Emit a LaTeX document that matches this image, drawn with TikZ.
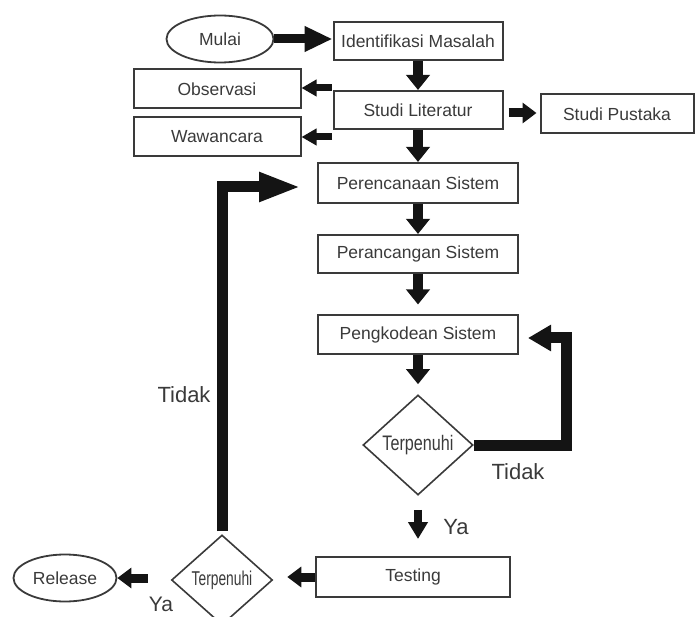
\documentclass[tikz,border=0pt]{standalone}
\usepackage{fontspec}
\setmainfont{Liberation Sans}
\usetikzlibrary{shapes.geometric,arrows.meta}
\definecolor{txt}{HTML}{3A3A3A}
\definecolor{edgec}{HTML}{3A3A3A}
\definecolor{arr}{HTML}{141414}
\begin{document}
\begin{tikzpicture}[x=1pt,y=-1pt,
  box/.style={draw=edgec,line width=2pt,rectangle,inner sep=0pt,text=txt,
    font=\fontsize{17.5}{20}\selectfont},
  oval/.style={draw=edgec,line width=1.8pt,ellipse,inner sep=0pt,text=txt,
    minimum height=47pt,font=\fontsize{17.5}{20}\selectfont},
  dec/.style={draw=edgec,line width=1.6pt,diamond,inner sep=0pt,text=txt},
  lbl/.style={text=txt,inner sep=0pt,font=\fontsize{22}{24}\selectfont},
  bigarr/.style={draw=arr,line width=9pt,-{Triangle[length=28pt,width=24pt]}},
  varr/.style={draw=arr,line width=10pt,-{Triangle[length=15pt,width=23pt]}},
  sarr/.style={draw=arr,line width=7pt,-{Triangle[length=15pt,width=16pt]}},
  harr/.style={draw=arr,line width=9pt,-{Triangle[length=14pt,width=20pt]}},
  yarr/.style={draw=arr,line width=8pt,-{Triangle[length=17pt,width=19pt]}},
  loopr/.style={draw=arr,line width=11pt,miter limit=10,-{Triangle[length=23pt,width=25pt]}},
  loopl/.style={draw=arr,line width=11pt,miter limit=10,-{Triangle[length=42pt,width=27pt]}}
]
\useasboundingbox (0,0) rectangle (696,617);

% nodes
\node[oval,minimum width=107pt] (mulai) at (220,39) {Mulai};
\node[box,minimum width=169pt,minimum height=38pt] (ident) at (418,41) {Identifikasi Masalah};
\node[box,minimum width=167pt,minimum height=39pt] (obs) at (217,89) {Observasi};
\node[box,minimum width=167pt,minimum height=39pt] (waw) at (217,137) {Wawancara};
\node[box,minimum width=169pt,minimum height=38pt] (studi) at (418,110) {Studi Literatur};
\node[box,minimum width=153pt,minimum height=39pt] (pust) at (617,114) {Studi Pustaka};
\node[box,minimum width=200pt,minimum height=40pt] (pren) at (418,183) {Perencanaan Sistem};
\node[box,minimum width=200pt,minimum height=38pt] (pran) at (418,254) {Perancangan Sistem};
\node[box,minimum width=200pt,minimum height=39pt] (peng) at (418,335) {Pengkodean Sistem};
\node[dec,minimum width=110pt,minimum height=100pt] (d1) at (418,445)
  {\scalebox{0.77}[1]{\fontsize{21}{23}\selectfont Terpenuhi}};
\node[box,minimum width=194pt,minimum height=40pt] (test) at (413,577) {Testing};
\node[dec,minimum width=101pt,minimum height=90pt] (d2) at (222,580)
  {\scalebox{0.69}[1]{\fontsize{20}{22}\selectfont Terpenuhi}};
\node[oval,minimum width=103pt] (rel) at (65,578) {Release};

% labels
\node[lbl] (tidakr) at (518,472) {Tidak};
\node[lbl] (tidakl) at (184,395) {Tidak};
\node[lbl] (yar) at (456,527) {Ya};
\node[lbl,font=\fontsize{21}{23}\selectfont] (yal) at (161,604) {Ya};

% free start points
\coordinate (o1) at (332,88);
\coordinate (o2) at (332,137);
\coordinate (r1) at (566,445);
\coordinate (r2) at (566,338);
\coordinate (l1) at (222,187);

% connectors
\draw[bigarr] (mulai.east) -- (mulai.east -| ident.west);
\draw[varr] (ident.south) -- (studi.north);
\draw[sarr] (o1) -- (o1 -| obs.east);
\draw[sarr] (o2) -- (o2 -| waw.east);
\draw[harr,shorten <=5pt,shorten >=3pt] (studi.east |- 0,113) -- (pust.west |- 0,113);
\draw[varr] (studi.south) -- (pren.north);
\draw[varr] (pren.south) -- (pran.north);
\draw[varr,shorten >=10pt] (pran.south) -- (peng.north);
\draw[varr,shorten >=10pt] (peng.south) -- (d1.north);
\draw[loopr,shorten >=9pt] (d1.east) -- (r1) -- (r2) -- (r2 -| peng.east);
\draw[yarr,shorten <=14pt,shorten >=17pt] (d1.south) -- (d1.south |- test.north);
\draw[harr,shorten >=14pt] (test.west) -- (test.west -| d2.east);
\draw[harr,shorten <=23pt] (d2.west |- 0,578) -- (rel.east);
\draw[loopl,shorten <=3pt,shorten >=16pt] (d2.north) -- (l1) -- (l1 -| pren.west);
\end{tikzpicture}
\end{document}
